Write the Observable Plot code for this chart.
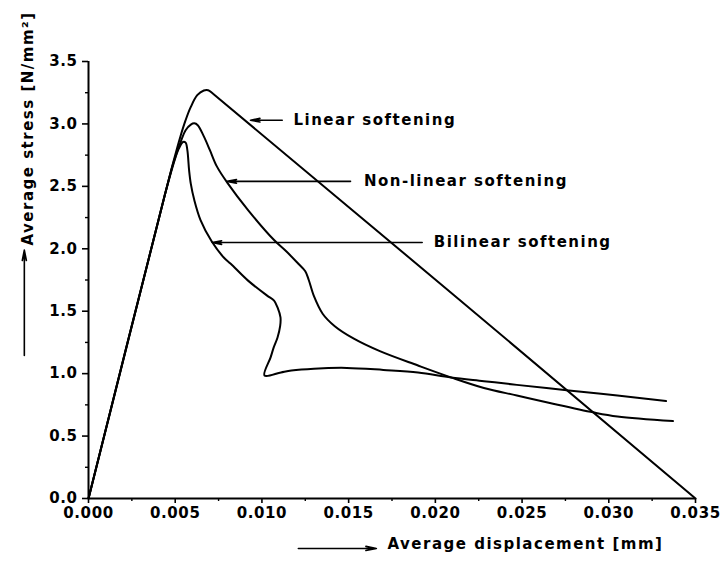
<!DOCTYPE html>
<html>
<head>
<meta charset="utf-8">
<script src="https://cdn.jsdelivr.net/npm/d3@7"></script>
<script src="https://cdn.jsdelivr.net/npm/@observablehq/plot@0.6"></script>
<style>
  html, body { margin: 0; padding: 0; background: #fff; }
  svg text { letter-spacing: 1.5px; }
  g[aria-label="x-axis tick label"] text, g[aria-label="y-axis tick label"] text { letter-spacing: 0.6px; }
</style>
</head>
<body>
<div id="chart"></div>
<script>
// Average displacement [mm], Average stress [N/mm²]
const linearSoftening = [
  [0, 0], [0.0044, 2.43], [0.0049, 2.70], [0.0053, 2.90], [0.0056, 3.03],
  [0.00588, 3.13], [0.00627, 3.23], [0.00665, 3.268], [0.0069, 3.27],
  [0.0072, 3.24], [0.035, 0]
];
const nonLinearSoftening = [
  [0, 0], [0.0044, 2.43], [0.0049, 2.69], [0.0053, 2.85], [0.0056, 2.95],
  [0.0059, 2.995], [0.0061, 3.005], [0.0063, 2.99], [0.00665, 2.90], [0.0070, 2.79],
  [0.0074, 2.66], [0.0080, 2.53], [0.0092, 2.31], [0.0107, 2.07], [0.0114, 1.98],
  [0.0121, 1.88], [0.0125, 1.82], [0.0127, 1.75], [0.0130, 1.62], [0.0135, 1.48],
  [0.0142, 1.38], [0.0153, 1.28], [0.0168, 1.18], [0.0190, 1.065], [0.0209, 0.97],
  [0.0228, 0.885], [0.0247, 0.825], [0.0266, 0.765], [0.0291, 0.69], [0.0305, 0.657],
  [0.0337, 0.62]
];
const bilinearSoftening = [
  [0, 0], [0.0044, 2.43], [0.0049, 2.68], [0.0052, 2.80], [0.00545, 2.855],
  [0.0056, 2.85], [0.0057, 2.79], [0.0058, 2.63], [0.0059, 2.52], [0.0061, 2.39],
  [0.00646, 2.23], [0.0071, 2.06], [0.0078, 1.93], [0.0082, 1.88], [0.0092, 1.745],
  [0.0103, 1.625], [0.0107, 1.585], [0.0109, 1.53], [0.01107, 1.45], [0.01105, 1.38],
  [0.0109, 1.29], [0.01068, 1.21], [0.0105, 1.13], [0.01015, 0.985], [0.0111, 1.01],
  [0.0117, 1.025], [0.0130, 1.04], [0.0149, 1.046], [0.0170, 1.03], [0.0190, 1.01],
  [0.0209, 0.97], [0.0228, 0.94], [0.0247, 0.91], [0.0277, 0.865], [0.0305, 0.825],
  [0.0333, 0.78]
];

// Curve labels: text start, arrow tail and tip (data units)
const curveLabels = [
  {label: "Linear softening",     y: 3.03, textX: 0.01182, tail: 0.01117, tip: 0.00934},
  {label: "Non-linear softening", y: 2.54, textX: 0.01588, tail: 0.01511, tip: 0.00799},
  {label: "Bilinear softening",   y: 2.05, textX: 0.01991, tail: 0.01924, tip: 0.00713}
];

const xTicks = [0, 0.005, 0.010, 0.015, 0.020, 0.025, 0.030, 0.035];
const xMinorTicks = [0.0025, 0.0075, 0.0125, 0.0175, 0.0225, 0.0275, 0.0325];
const yTicks = [0, 0.5, 1.0, 1.5, 2.0, 2.5, 3.0, 3.5];
const yMinorTicks = [0.25, 0.75, 1.25, 1.75, 2.25, 2.75, 3.25];

const xTitle = "Average displacement [mm]";
const yTitle = "Average stress [N/mm²]";
// Title arrows (data units, outside the frame)
const xTitleArrow = [{x1: 0.0121, x2: 0.0166, y: -0.40}];
const yTitleArrow = [{x: -0.0037, y1: 1.145, y2: 1.99}];

const fx = d => d[0], fy = d => d[1];

const chart = Plot.plot({
  width: 723,
  height: 563,
  marginLeft: 88,
  marginRight: 28,
  marginTop: 61,
  marginBottom: 65,
  x: {domain: [0, 0.035]},
  y: {domain: [0, 3.5]},
  style: {fontFamily: "DejaVu Sans", fontSize: "15px", fontWeight: "bold", background: "#fff", color: "#000"},
  marks: [
    Plot.axisY({ticks: yTicks, tickFormat: d3.format(".1f"), tickSize: 6, tickPadding: 5, label: null, strokeWidth: 1.6, fontWeight: "bold"}),
    Plot.axisY({ticks: yMinorTicks, tickSize: 3, text: null, label: null, strokeWidth: 1.4}),
    Plot.axisX({ticks: xTicks, tickFormat: d3.format(".3f"), tickSize: 5, tickPadding: 4, label: null, strokeWidth: 1.6, fontWeight: "bold"}),
    Plot.axisX({ticks: xMinorTicks, tickSize: 3, text: null, label: null, strokeWidth: 1.4}),
    Plot.ruleX([0], {strokeWidth: 2}),
    Plot.ruleY([0], {strokeWidth: 2}),
    Plot.line(linearSoftening, {x: fx, y: fy, curve: "catmull-rom", stroke: "#000", strokeWidth: 2}),
    Plot.line(nonLinearSoftening, {x: fx, y: fy, curve: "catmull-rom", stroke: "#000", strokeWidth: 2}),
    Plot.line(bilinearSoftening, {x: fx, y: fy, curve: "catmull-rom", stroke: "#000", strokeWidth: 2}),
    Plot.arrow(curveLabels, {x1: "tail", x2: "tip", y1: "y", y2: "y", headLength: 9, headAngle: 22, stroke: "#000", strokeWidth: 1.6}),
    Plot.text(curveLabels, {x: "textX", y: "y", text: "label", textAnchor: "start", fontSize: 15, fontWeight: "bold", fill: "#000"}),
    Plot.arrow(xTitleArrow, {x1: "x1", x2: "x2", y1: "y", y2: "y", headLength: 10, headAngle: 22, stroke: "#000", strokeWidth: 1.6}),
    Plot.arrow(yTitleArrow, {x1: "x", x2: "x", y1: "y1", y2: "y2", headLength: 10, headAngle: 22, stroke: "#000", strokeWidth: 1.6}),
    Plot.text([xTitle], {frameAnchor: "bottom-left", text: d => d, textAnchor: "start", dx: 299, dy: 50, fontSize: 15, fontWeight: "bold", fill: "#000"}),
    Plot.text([yTitle], {frameAnchor: "top-left", text: d => d, textAnchor: "end", rotate: -90, dx: -66, dy: -50, fontSize: 15, fontWeight: "bold", fill: "#000"})
  ]
});
document.getElementById("chart").appendChild(chart);
</script>
</body>
</html>
